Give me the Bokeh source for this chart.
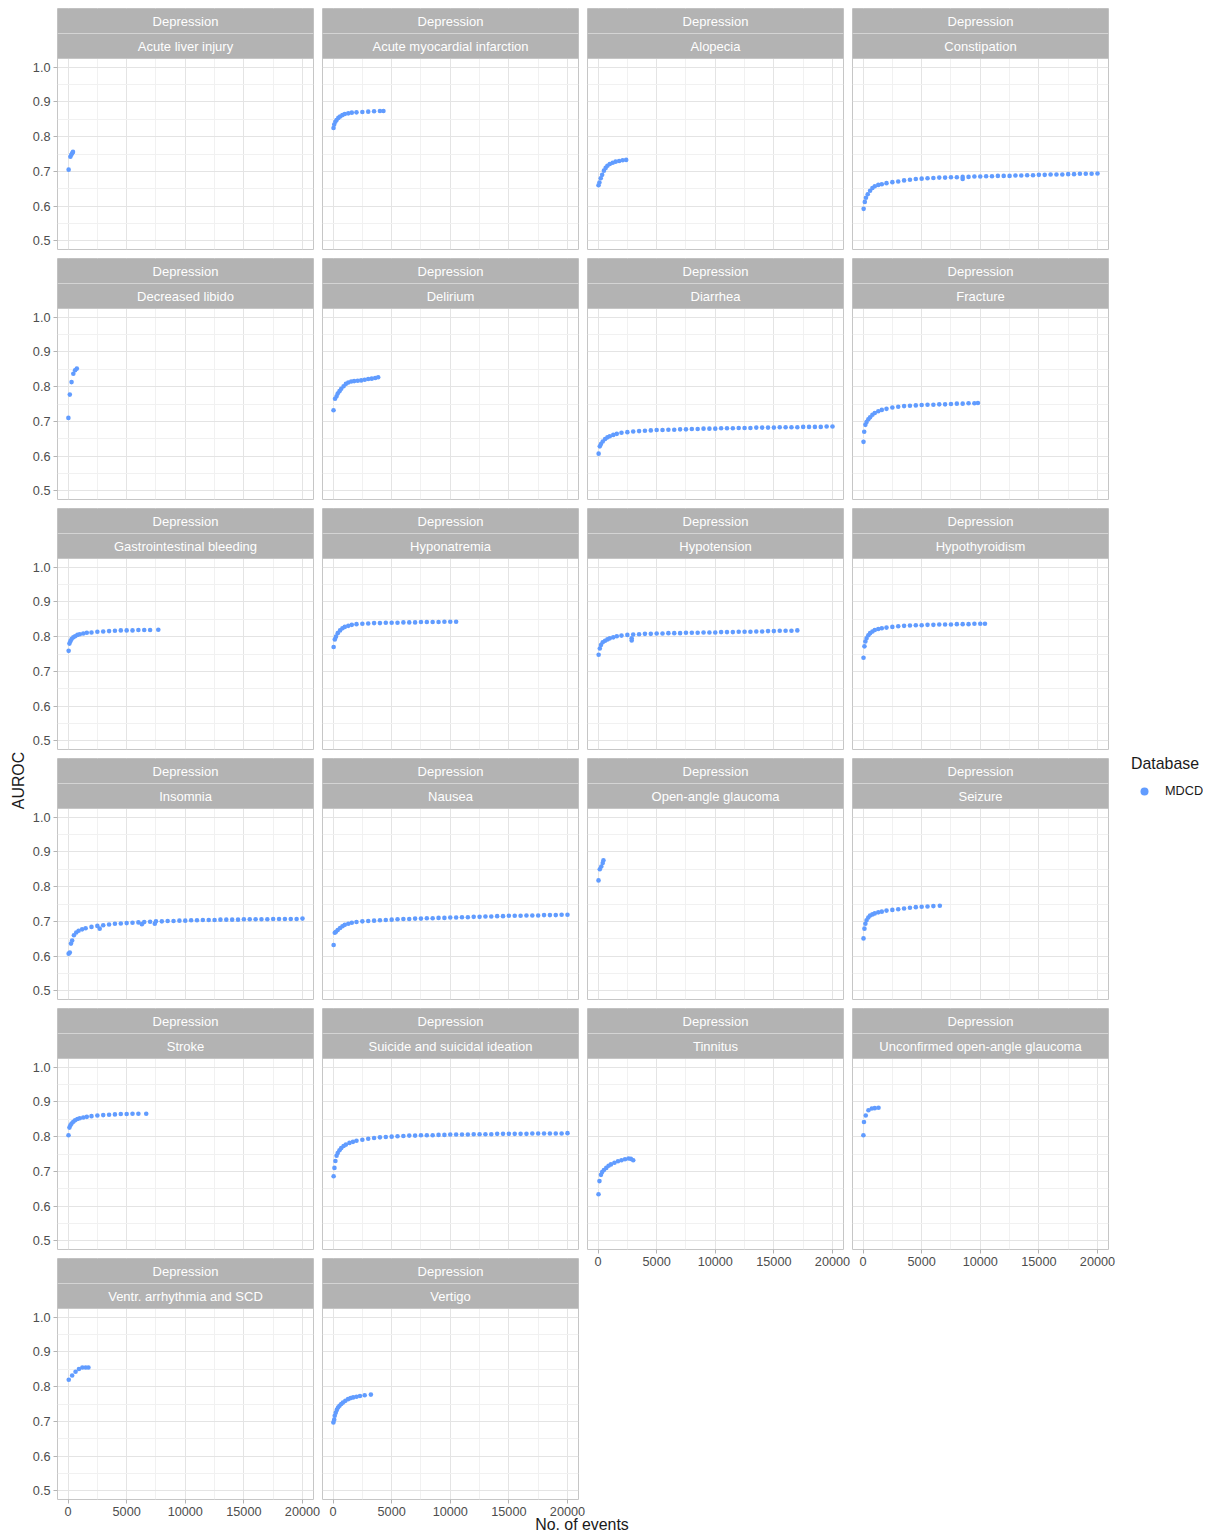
import math
from bokeh.plotting import figure
from bokeh.models import (Range1d, FixedTicker, PrintfTickFormatter, BoxAnnotation,
                          Span, Label, Legend, LegendItem)
from bokeh.layouts import row, column
from bokeh.embed import file_html
from bokeh.resources import INLINE

# ---------------- data ----------------
strip_top = "Depression"
outcomes = ["Acute liver injury", "Acute myocardial infarction", "Alopecia", "Constipation",
            "Decreased libido", "Delirium", "Diarrhea", "Fracture",
            "Gastrointestinal bleeding", "Hyponatremia", "Hypotension", "Hypothyroidism",
            "Insomnia", "Nausea", "Open-angle glaucoma", "Seizure",
            "Stroke", "Suicide and suicidal ideation", "Tinnitus", "Unconfirmed open-angle glaucoma",
            "Ventr. arrhythmia and SCD", "Vertigo"]
database = "MDCD"

x_liver = [50, 200, 280, 350, 420]
y_liver = [0.705, 0.742, 0.748, 0.752, 0.756]

x_ami = [40, 100, 200, 300, 450, 600, 800, 1000, 1300, 1600, 2000, 2500, 3000, 3500, 4000, 4300]
y_ami = [0.825, 0.835, 0.843, 0.848, 0.854, 0.858, 0.862, 0.865, 0.867, 0.869, 0.870, 0.871, 0.872, 0.873, 0.874, 0.874]

x_alopecia = [40, 120, 230, 350, 500, 650, 800, 1000, 1250, 1500, 1800, 2100, 2400]
y_alopecia = [0.660, 0.668, 0.680, 0.690, 0.702, 0.710, 0.716, 0.721, 0.725, 0.728, 0.730, 0.732, 0.733]

x_constip = [50, 150, 250, 400, 600, 800, 1000, 1300, 1600, 2000, 2500, 3000, 3500, 4000, 4500, 5000,
             5500, 6000, 6500, 7000, 7500, 8000, 8500, 8500, 9000, 9500, 10000, 10500, 11000, 11500, 12000,
             12500, 13000, 13500, 14000, 14500, 15000, 15500, 16000, 16500, 17000, 17500, 18000,
             18500, 19000, 19500, 20000]
y_constip = [0.592, 0.612, 0.624, 0.634, 0.644, 0.652, 0.657, 0.661, 0.663, 0.666, 0.669, 0.671, 0.674, 0.676, 0.678, 0.679,
             0.680, 0.681, 0.682, 0.682, 0.683, 0.683, 0.684, 0.678, 0.684, 0.685, 0.685, 0.686, 0.686, 0.687, 0.687,
             0.687, 0.688, 0.688, 0.689, 0.689, 0.690, 0.690, 0.691, 0.691, 0.691, 0.692, 0.692,
             0.693, 0.693, 0.693, 0.694]

x_libido = [30, 150, 300, 450, 600, 750]
y_libido = [0.710, 0.777, 0.813, 0.837, 0.847, 0.852]

x_delirium = [40, 170, 300, 400, 550, 700, 900, 1100, 1300, 1550, 1800, 2100, 2400, 2700, 3000, 3300, 3600, 3850]
y_delirium = [0.732, 0.765, 0.772, 0.780, 0.787, 0.794, 0.801, 0.808, 0.812, 0.815, 0.816, 0.817, 0.818, 0.820, 0.822, 0.823, 0.825, 0.827]

x_diarrhea = [50, 150, 250, 400, 600, 800, 1000, 1300, 1600, 2000, 2500, 3000, 3500, 4000, 4500, 5000,
              5500, 6000, 6500, 7000, 7500, 8000, 8500, 9000, 9500, 10000, 10500, 11000, 11500, 12000,
              12500, 13000, 13500, 14000, 14500, 15000, 15500, 16000, 16500, 17000, 17500, 18000,
              18500, 19000, 19500, 20000]
y_diarrhea = [0.607, 0.628, 0.635, 0.642, 0.649, 0.654, 0.657, 0.661, 0.664, 0.667, 0.669, 0.671, 0.672, 0.673, 0.674, 0.675,
              0.675, 0.676, 0.676, 0.677, 0.677, 0.678, 0.678, 0.679, 0.679, 0.679, 0.680, 0.680, 0.680, 0.681,
              0.681, 0.681, 0.682, 0.682, 0.682, 0.682, 0.683, 0.683, 0.683, 0.683, 0.684, 0.684,
              0.684, 0.684, 0.685, 0.685]

x_fracture = [40, 100, 200, 300, 450, 600, 800, 1000, 1300, 1600, 2000, 2500, 3000, 3500, 4000, 4500,
              5000, 5500, 6000, 6500, 7000, 7500, 8000, 8500, 9000, 9500, 9800]
y_fracture = [0.641, 0.670, 0.690, 0.698, 0.706, 0.712, 0.719, 0.724, 0.729, 0.733, 0.736, 0.740, 0.742, 0.744, 0.745, 0.746,
              0.747, 0.748, 0.748, 0.749, 0.749, 0.750, 0.751, 0.751, 0.752, 0.752, 0.753]

x_gib = [50, 120, 200, 300, 450, 600, 800, 1000, 1300, 1600, 2000, 2500, 3000, 3500, 4000, 4500, 5000,
         5500, 6000, 6500, 7000, 7700]
y_gib = [0.759, 0.780, 0.787, 0.793, 0.798, 0.801, 0.805, 0.807, 0.809, 0.811, 0.812, 0.814, 0.815, 0.816, 0.817, 0.818, 0.818,
         0.818, 0.819, 0.819, 0.819, 0.820]

x_hypona = [50, 150, 250, 400, 600, 800, 1000, 1300, 1600, 2000, 2500, 3000, 3500, 4000, 4500, 5000,
            5500, 6000, 6500, 7000, 7500, 8000, 8500, 9000, 9500, 10000, 10500]
y_hypona = [0.770, 0.792, 0.800, 0.810, 0.818, 0.824, 0.828, 0.831, 0.834, 0.836, 0.837, 0.838, 0.839, 0.839, 0.840, 0.840,
            0.840, 0.841, 0.841, 0.841, 0.842, 0.842, 0.842, 0.842, 0.843, 0.843, 0.843]

x_hypot = [50, 150, 250, 400, 600, 800, 1000, 1300, 1600, 2000, 2500, 2870, 2870, 3000, 3500, 4000, 4500, 5000,
           5500, 6000, 6500, 7000, 7500, 8000, 8500, 9000, 9500, 10000, 10500, 11000, 11500, 12000,
           12500, 13000, 13500, 14000, 14500, 15000, 15500, 16000, 16500, 17000]
y_hypot = [0.748, 0.766, 0.776, 0.784, 0.788, 0.792, 0.795, 0.798, 0.801, 0.803, 0.805, 0.789, 0.795, 0.806, 0.807, 0.808, 0.808, 0.809,
           0.809, 0.810, 0.810, 0.810, 0.811, 0.811, 0.811, 0.812, 0.812, 0.812, 0.813, 0.813, 0.813, 0.814,
           0.814, 0.814, 0.815, 0.815, 0.816, 0.816, 0.817, 0.817, 0.817, 0.818]

x_hypothy = [40, 120, 200, 300, 450, 600, 800, 1000, 1300, 1600, 2000, 2500, 3000, 3500, 4000, 4500,
             5000, 5500, 6000, 6500, 7000, 7500, 8000, 8500, 9000, 9500, 10000, 10400]
y_hypothy = [0.739, 0.772, 0.786, 0.795, 0.804, 0.810, 0.815, 0.819, 0.822, 0.824, 0.826, 0.828, 0.830, 0.831, 0.832, 0.833,
             0.833, 0.834, 0.834, 0.835, 0.835, 0.835, 0.836, 0.836, 0.836, 0.837, 0.837, 0.837]

x_insomnia = [50, 150, 250, 350, 500, 700, 900, 1200, 1500, 2000, 2500, 2700, 3000, 3500, 4000, 4500, 5000,
              5500, 6000, 6300, 6500, 7000, 7400, 7500, 8000, 8500, 9000, 9500, 10000, 10500, 11000, 11500,
              12000, 12500, 13000, 13500, 14000, 14500, 15000, 15500, 16000, 16500, 17000, 17500,
              18000, 18500, 19000, 19500, 20000]
y_insomnia = [0.607, 0.610, 0.636, 0.645, 0.660, 0.668, 0.673, 0.677, 0.680, 0.684, 0.687, 0.679, 0.689, 0.691, 0.693, 0.694, 0.695,
              0.696, 0.697, 0.692, 0.698, 0.699, 0.693, 0.700, 0.700, 0.701, 0.701, 0.702, 0.702, 0.703, 0.703, 0.704,
              0.704, 0.704, 0.705, 0.705, 0.705, 0.705, 0.706, 0.706, 0.706, 0.706, 0.706, 0.707,
              0.707, 0.707, 0.707, 0.707, 0.708]

x_nausea = [50, 150, 250, 400, 600, 800, 1000, 1300, 1600, 2000, 2500, 3000, 3500, 4000, 4500, 5000,
            5500, 6000, 6500, 7000, 7500, 8000, 8500, 9000, 9500, 10000, 10500, 11000, 11500, 12000,
            12500, 13000, 13500, 14000, 14500, 15000, 15500, 16000, 16500, 17000, 17500, 18000,
            18500, 19000, 19500, 20000]
y_nausea = [0.632, 0.667, 0.670, 0.675, 0.681, 0.686, 0.690, 0.693, 0.696, 0.698, 0.700, 0.701, 0.702, 0.703, 0.704, 0.705,
            0.706, 0.707, 0.707, 0.708, 0.708, 0.709, 0.709, 0.710, 0.710, 0.711, 0.711, 0.712, 0.712, 0.713,
            0.713, 0.714, 0.714, 0.715, 0.715, 0.716, 0.716, 0.716, 0.717, 0.717, 0.717, 0.718,
            0.718, 0.718, 0.719, 0.719]

x_oag = [40, 150, 280, 400, 460]
y_oag = [0.818, 0.850, 0.858, 0.868, 0.876]

x_seizure = [40, 120, 200, 300, 450, 600, 800, 1000, 1300, 1600, 2000, 2500, 3000, 3500, 4000, 4500,
             5000, 5500, 6000, 6550]
y_seizure = [0.651, 0.679, 0.693, 0.703, 0.711, 0.717, 0.720, 0.723, 0.726, 0.728, 0.731, 0.733, 0.735, 0.737, 0.739, 0.741,
             0.742, 0.743, 0.744, 0.745]

x_stroke = [40, 120, 200, 300, 450, 600, 800, 1000, 1300, 1600, 2000, 2500, 3000, 3500, 4000, 4500,
            5000, 5500, 6000, 6670]
y_stroke = [0.804, 0.826, 0.833, 0.838, 0.843, 0.847, 0.851, 0.853, 0.855, 0.857, 0.859, 0.861, 0.862, 0.863, 0.864, 0.865,
            0.865, 0.866, 0.866, 0.866]

x_suicide = [50, 120, 200, 300, 400, 550, 700, 900, 1100, 1400, 1700, 2000, 2500, 3000, 3500, 4000, 4500,
             5000, 5500, 6000, 6500, 7000, 7500, 8000, 8500, 9000, 9500, 10000, 10500, 11000, 11500,
             12000, 12500, 13000, 13500, 14000, 14500, 15000, 15500, 16000, 16500, 17000, 17500,
             18000, 18500, 19000, 19500, 20000]
y_suicide = [0.686, 0.710, 0.730, 0.745, 0.753, 0.761, 0.767, 0.773, 0.777, 0.782, 0.785, 0.788, 0.791, 0.794, 0.796, 0.798, 0.799,
             0.800, 0.801, 0.802, 0.803, 0.803, 0.804, 0.804, 0.804, 0.805, 0.805, 0.806, 0.806, 0.806, 0.806,
             0.807, 0.807, 0.807, 0.807, 0.808, 0.808, 0.808, 0.808, 0.808, 0.808, 0.809, 0.809,
             0.809, 0.809, 0.809, 0.809, 0.810]

x_tinnitus = [40, 120, 250, 350, 500, 700, 900, 1100, 1400, 1700, 2000, 2300, 2600, 2800, 3000]
y_tinnitus = [0.634, 0.672, 0.690, 0.698, 0.704, 0.710, 0.716, 0.720, 0.725, 0.729, 0.732, 0.735, 0.737, 0.736, 0.732]

x_uoag = [30, 80, 230, 460, 750, 1000, 1320]
y_uoag = [0.804, 0.842, 0.861, 0.876, 0.881, 0.882, 0.883]

x_varr = [60, 350, 640, 930, 1220, 1500, 1740]
y_varr = [0.820, 0.832, 0.843, 0.851, 0.855, 0.855, 0.855]

x_vertigo = [30, 100, 145, 230, 320, 430, 552, 700, 843, 1050, 1279, 1500, 1715, 2000, 2297, 2700, 3227]
y_vertigo = [0.697, 0.705, 0.716, 0.725, 0.733, 0.740, 0.745, 0.750, 0.754, 0.759, 0.764, 0.767, 0.769, 0.771, 0.773, 0.775, 0.777]

series_x = [x_liver, x_ami, x_alopecia, x_constip, x_libido, x_delirium, x_diarrhea, x_fracture,
            x_gib, x_hypona, x_hypot, x_hypothy, x_insomnia, x_nausea, x_oag, x_seizure,
            x_stroke, x_suicide, x_tinnitus, x_uoag, x_varr, x_vertigo]
series_y = [y_liver, y_ami, y_alopecia, y_constip, y_libido, y_delirium, y_diarrhea, y_fracture,
            y_gib, y_hypona, y_hypot, y_hypothy, y_insomnia, y_nausea, y_oag, y_seizure,
            y_stroke, y_suicide, y_tinnitus, y_uoag, y_varr, y_vertigo]

x_ticks = [0, 5000, 10000, 15000, 20000]
x_minor = [2500, 7500, 12500, 17500]
y_ticks = [0.5, 0.6, 0.7, 0.8, 0.9, 1.0]
y_minor = [0.55, 0.65, 0.75, 0.85, 0.95]

# ---------------- styling / layout ----------------
FONT = "Liberation Sans"
PT = "#619CFF"
PT_SIZE = 4.6
STRIP = "#b3b3b3"
BORDER = "#c6c6c6"
NCOL = 4
PLOT_W, PLOT_H, STRIP_H = 256, 191, 25
X0, X1 = -900, 20940
Y0, YTOP = 0.475, 1.025
ypp = (YTOP - Y0) / PLOT_H
Y1 = YTOP + 2 * STRIP_H * ypp
Y_SEP = YTOP + STRIP_H * ypp

cols = [[] for _ in range(NCOL)]
n = len(outcomes)
for i, name in enumerate(outcomes):
    c = i % NCOL
    has_x = i + NCOL >= n
    has_y = c == 0
    p = figure(frame_width=PLOT_W, frame_height=PLOT_H + 2 * STRIP_H,
               x_range=Range1d(X0, X1), y_range=Range1d(Y0, Y1),
               output_backend="svg", toolbar_location=None,
               x_axis_location="below" if has_x else None,
               y_axis_location="left" if has_y else None,
               min_border_left=29 if has_y else 0, min_border_right=9,
               min_border_top=0, min_border_bottom=0 if has_x else 9,
               background_fill_color="white", border_fill_color="white",
               outline_line_color=BORDER, outline_line_width=1)
    p.xgrid.ticker = FixedTicker(ticks=x_ticks, minor_ticks=x_minor)
    p.ygrid.ticker = FixedTicker(ticks=y_ticks, minor_ticks=y_minor)
    for g in (p.xgrid, p.ygrid):
        g.grid_line_color = "#e4e4e4"
        g.grid_line_width = 1
        g.minor_grid_line_color = "#f1f1f1"
        g.minor_grid_line_width = 1
    axes = []
    if has_x:
        p.xaxis.ticker = FixedTicker(ticks=x_ticks)
        p.xaxis.formatter = PrintfTickFormatter(format="%d")
        axes.append(p.xaxis)
    if has_y:
        p.yaxis.ticker = FixedTicker(ticks=y_ticks)
        p.yaxis.formatter = PrintfTickFormatter(format="%.1f")
        axes.append(p.yaxis)
    for ax in axes:
        ax.axis_line_color = None
        ax.major_tick_line_color = STRIP
        ax.major_tick_out = 4
        ax.major_tick_in = 0
        ax.minor_tick_line_color = None
        ax.major_label_standoff = 3
        ax.major_label_text_font = FONT
        ax.major_label_text_font_size = "12.7px"
        ax.major_label_text_color = "#4d4d4d"

    p.scatter(series_x[i], series_y[i], size=PT_SIZE, fill_color=PT, line_color=None)

    # facet strips
    p.add_layout(BoxAnnotation(bottom=YTOP, top=Y_SEP, fill_color=STRIP, fill_alpha=1,
                               line_color=None, level="overlay"))
    p.add_layout(BoxAnnotation(bottom=Y_SEP, fill_color=STRIP, fill_alpha=1,
                               line_color=None, level="overlay"))
    p.add_layout(Span(location=Y_SEP, dimension="width", line_color="#d4d4d4",
                      line_width=1, level="overlay"))
    p.add_layout(Span(location=YTOP, dimension="width", line_color=BORDER,
                      line_width=1, level="overlay"))
    xm = (X0 + X1) / 2
    p.add_layout(Label(x=xm, y=(Y_SEP + Y1) / 2, text=strip_top, text_align="center",
                       text_baseline="middle", text_color="white", text_font=FONT,
                       text_font_size="13px", level="overlay"))
    p.add_layout(Label(x=xm, y=(YTOP + Y_SEP) / 2, text=name, text_align="center",
                       text_baseline="middle", text_color="white", text_font=FONT,
                       text_font_size="13px", level="overlay"))
    cols[c].append(p)

grid = row([column(cl, spacing=0) for cl in cols], spacing=0)

GRID_W = 29 + PLOT_W + 9 + 3 * (PLOT_W + 9)
FULL_H = 1529


def blank(w, h, xr, yr):
    f = figure(width=w, height=h, x_range=Range1d(*xr), y_range=Range1d(*yr),
               output_backend="svg", toolbar_location=None,
               x_axis_location=None, y_axis_location=None, min_border=0,
               outline_line_color=None, background_fill_color="white",
               border_fill_color="white")
    f.grid.visible = False
    return f


# y-axis title
yt = blank(20, FULL_H, (0, 20), (0, FULL_H))
yt.add_layout(Label(x=10, y=FULL_H - 772, text="AUROC", angle=math.pi / 2,
                    text_align="center", text_baseline="middle", text_font=FONT,
                    text_font_size="15.9px", text_color="#1a1a1a"))

# x-axis title
XT_H = 22
xt = blank(GRID_W, XT_H, (0, GRID_W), (0, XT_H))
xt.background_fill_alpha = 0
xt.border_fill_alpha = 0
xt.add_layout(Label(x=553.5, y=XT_H / 2, text="No. of events", text_align="center",
                    text_baseline="middle", text_font=FONT, text_font_size="15.9px",
                    text_color="#1a1a1a"))
xt.margin = (-5, 0, 0, 0)

# legend (its key renderer holds MDCD data, kept outside the visible range)
LW = 86
lf = blank(LW, FULL_H, (0, 1), (0, 1))
r = lf.scatter(x_liver, y_liver, size=2.6, fill_color=PT, line_color=None)
leg = Legend(items=[LegendItem(label=database, renderers=[r])], title="Database",
             location=(14, FULL_H - 793), border_line_color=None, background_fill_alpha=0,
             padding=0, margin=0, spacing=0, title_standoff=8, glyph_width=26,
             glyph_height=20, label_height=20, label_standoff=8,
             label_text_font=FONT, label_text_font_size="12.7px", label_text_color="#1a1a1a",
             title_text_font=FONT, title_text_font_size="15.9px", title_text_font_style="normal",
             title_text_color="#1a1a1a")
lf.add_layout(leg)

layout = row(yt, column(grid, xt, spacing=0), lf, spacing=0)
layout.margin = (8, 0, 0, 8)

open("out.html", "w").write(file_html(layout, INLINE, title="AUROC by number of events"))
